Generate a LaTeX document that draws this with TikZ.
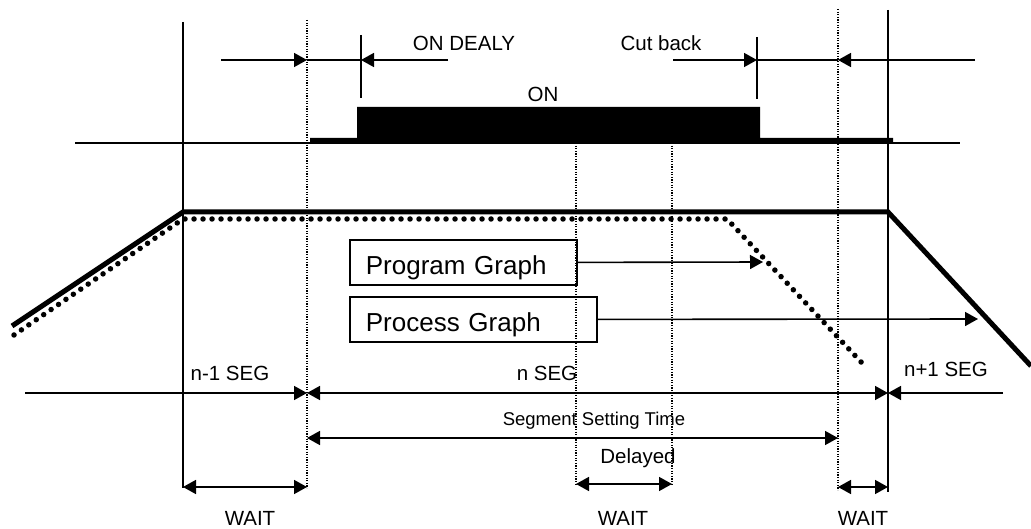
\documentclass[tikz,border=0pt]{standalone}
\usepackage{fontspec}
\setmainfont{Liberation Sans}
\usetikzlibrary{arrows.meta}

\begin{document}
\begin{tikzpicture}[x=1pt,y=-1pt,
  lbl/.style={font=\fontsize{20.5}{24}\selectfont,inner sep=0pt,anchor=base},
  thinln/.style={line width=1.6pt},
  dimarr/.style={line width=1.6pt,-{Triangle[length=13pt,width=14pt]}},
  dimboth/.style={line width=1.6pt,{Triangle[length=13pt,width=14pt]}-{Triangle[length=13pt,width=14pt]}},
  dotln/.style={line width=1.3pt,dash pattern=on 1.3pt off 1.3pt},
  graphbox/.style={draw,line width=1.8pt,anchor=north west,minimum height=45pt,
    inner xsep=16pt,inner ysep=0pt,text height=24pt,text depth=0pt,align=left,
    font=\fontsize{26}{30}\selectfont}]
\useasboundingbox (0,0) rectangle (1031,529);
% time marks
\coordinate (a1) at (183,22);  \coordinate (a2) at (183,488);
\coordinate (b1) at (307,20);  \coordinate (b2) at (307,488);
\coordinate (c1) at (576,143); \coordinate (c2) at (576,486);
\coordinate (d1) at (672,143); \coordinate (d2) at (672,486);
\coordinate (e1) at (838,9);   \coordinate (e2) at (838,490);
\coordinate (f1) at (888,10);  \coordinate (f2) at (888,492);
\draw[thinln] (a1) -- (a2);
\draw[thinln] (f1) -- (f2);
\foreach \p in {b,c,d,e} \draw[dotln] (\p1) -- (\p2);

% ON signal
\fill (310,143) -- (310,138) -- (357,138) -- (357,107) -- (760,107) -- (760,138)
  -- (893,138) -- (893,143) -- cycle;
\draw[line width=1.5pt] (75,143) -- (960,143);
\node[lbl] (on) at (543,102) {ON};

% ON delay
\coordinate (dl0) at (221,60); \coordinate (dl1) at (307,60);
\coordinate (dl2) at (361,60); \coordinate (dl3) at (448,60);
\draw[dimarr] (dl0) -- (dl1);
\draw[thinln] (dl1) -- (dl2);
\draw[dimarr] (dl3) -- (dl2);
\draw[thinln] (361,35) -- (361,98);
\node[lbl] (ondelay) at (464,51) {ON DEALY};

% cut back
\coordinate (cb0) at (673,60); \coordinate (cb1) at (757,60);
\coordinate (cb2) at (838,60); \coordinate (cb3) at (975,60);
\draw[dimarr] (cb0) -- (cb1);
\draw[thinln] (cb1) -- (cb2);
\draw[dimarr] (cb3) -- (cb2);
\draw[thinln] (757,37) -- (757,99);
\node[lbl] (cutback) at (661,51) {Cut back};

% process graph (solid) and program graph (dotted)
\draw[line width=5pt] (12,326) -- (183,212) -- (888,212) -- (1031,366);
\draw[line width=5.5pt,line cap=round,dash pattern=on 0pt off 9pt]
  (14,335) -- (183,219) -- (727,219) -- (862,363);

% legend boxes
\node[graphbox,text width=195pt] (prog) at (349,239) {Program Graph};
\node[graphbox,text width=215pt] (proc) at (349,296) {Process Graph};
\coordinate (progtip) at (763,262);
\coordinate (proctip) at (978,319);
\draw[dimarr] (prog.east) -- (progtip);
\draw[dimarr] (proc.east) -- (proctip);

% segments
\coordinate (s0) at (25,393);  \coordinate (s1) at (307,393);
\coordinate (s2) at (888,393); \coordinate (s3) at (1003,393);
\draw[dimarr] (s0) -- (s1);
\draw[dimboth] (s1) -- (s2);
\draw[dimarr] (s3) -- (s2);
\node[lbl] (segprev) at (230,380) {n-1 SEG};
\node[lbl] (segcur) at (547,380) {n SEG};
\node[lbl] (segnext) at (946,376) {n+1 SEG};

% segment setting time
\coordinate (st0) at (307,438); \coordinate (st1) at (838,438);
\draw[dimboth] (st0) -- (st1);
\node[lbl,font=\fontsize{18.5}{22}\selectfont] (settime) at (594,425) {Segment Setting Time};
\node[lbl] (delayed) at (638,463) {Delayed};

% wait times
\coordinate (w0) at (183,487); \coordinate (w1) at (307,487);
\coordinate (w2) at (576,484); \coordinate (w3) at (672,484);
\coordinate (w4) at (838,487); \coordinate (w5) at (888,487);
\draw[dimboth] (w0) -- (w1);
\draw[dimboth] (w2) -- (w3);
\draw[dimboth] (w4) -- (w5);
\node[lbl] (waitA) at (250,525) {WAIT};
\node[lbl] (waitB) at (623,525) {WAIT};
\node[lbl] (waitC) at (863,525) {WAIT};
\end{tikzpicture}
\end{document}
